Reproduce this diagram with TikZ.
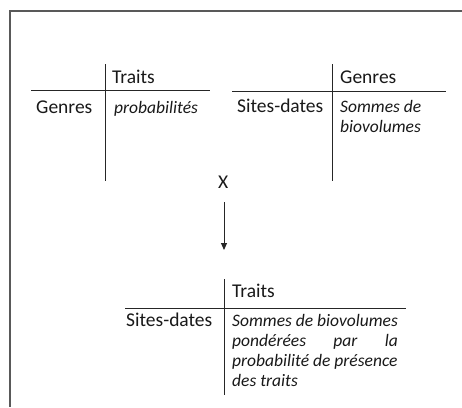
\documentclass[tikz,border=0pt]{standalone}
\usepackage{fontspec}
\setmainfont{Carlito}
\usetikzlibrary{arrows.meta}
\newlength\tthreew
\begin{document}
\settowidth{\tthreew}{\fontsize{17.5}{20}\selectfont\itshape Sommes de biovolumes}%
\begin{tikzpicture}[x=1pt,y=-1pt,
  frameline/.style={draw=black!65, line width=1.6pt},
  rule/.style={draw=black!85, line width=1pt},
  lbl/.style={anchor=base west, inner sep=0pt, text=black!90, font=\fontsize{19.5}{20}\selectfont},
  ilbl/.style={lbl, font=\fontsize{17.5}{20}\selectfont\itshape},
  body/.style={anchor=north west, inner sep=0pt, text=black!90, align=left, font=\fontsize{17.5}{20}\selectfont\itshape}]
\useasboundingbox (0,0) rectangle (462,407);
\fill[white] (0,0) rectangle (462,407);
% frame
\draw[frameline] (462,11) -- (10,11) -- (10,407);
% table 1
\draw[rule] (105,64) -- (105,181);
\draw[rule] (31,90) -- (210,90);
\node[lbl] (t1col) at (112,83) {Traits};
\node[lbl] (t1row) at (36,113) {Genres};
\node[ilbl] (t1val) at (114,113) {probabilités};
% table 2
\draw[rule] (332,64) -- (332,181);
\draw[rule] (232,91) -- (446,91);
\node[lbl] (t2col) at (340,83) {Genres};
\node[lbl] (t2row) at (237,112) {Sites-dates};
\node[body] (t2val) at (340,98) {\strut Sommes de\\biovolumes};
% operator and arrow
\node[lbl] (op) at (218,188) {X};
\coordinate (tip) at (224,250);
\draw[rule, -{Triangle[width=6pt,length=7pt]}] (224,202) -- (tip);
% table 3
\draw[rule] (224,279) -- (224,395);
\draw[rule] (125,308) -- (406,308);
\node[lbl] (t3col) at (232,297) {Traits};
\node[lbl] (t3row) at (126,326) {Sites-dates};
\node[body] (t3val) at (232,312) {\strut Sommes de biovolumes\\\makebox[\tthreew][s]{pondérées par la}\\probabilité de présence\\des traits};
\end{tikzpicture}
\end{document}
